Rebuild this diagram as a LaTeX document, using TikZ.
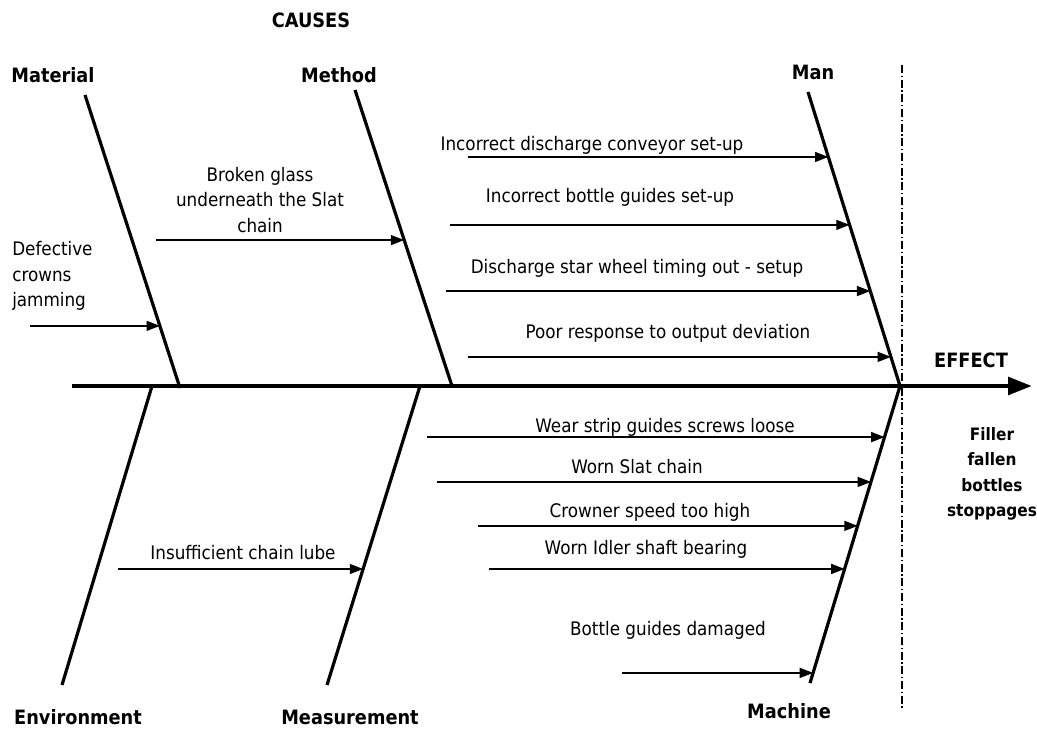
\documentclass[tikz,border=0pt]{standalone}
\usepackage{fontspec}
\setmainfont{DejaVu Sans Condensed}
\usetikzlibrary{arrows.meta,calc}

\begin{document}
\begin{tikzpicture}[x=0.75pt,y=-0.75pt,
    bone/.style={line width=2.4pt},
    cause/.style={line width=1.1pt,-{Triangle[length=10pt,width=7.5pt]}},
    txt/.style={font=\fontsize{14}{19}\selectfont,inner sep=0pt},
    head/.style={font=\bfseries\fontsize{14.8}{19}\selectfont,inner sep=0pt}]
  \useasboundingbox (0,0) rectangle (1037,730);
  % Spine and effect
  \coordinate (tail) at (72,386);
  \coordinate (mouth) at (900,386);
  \coordinate (tip) at (1032,386);
  \draw[line width=3.6pt,-{Triangle[length=18pt,width=13pt]}] (tail) -- (tip);
  \coordinate (divT) at (902,65);
  \coordinate (divB) at (902,710);
  \draw[line width=0.9pt,dash pattern=on 6pt off 2pt on 1pt off 2pt] (divT) -- (divB);
  \node[head] (effect) at (971,360) {EFFECT};
  \node[head,font=\bfseries\fontsize{12.8}{19}\selectfont,align=center] (problem) at (992,474) {Filler\\fallen\\bottles\\stoppages};
  \node[head] (causes) at (311,20) {CAUSES};
  % Bones
  \coordinate (matT) at (85,95);   \coordinate (matB) at (180,388);
  \coordinate (metT) at (355,90);  \coordinate (metB) at (452,386);
  \coordinate (manT) at (808,92);
  \coordinate (envB) at (62,685);  \coordinate (envT) at (152,386);
  \coordinate (meaB) at (327,685); \coordinate (meaT) at (420,386);
  \coordinate (macB) at (810,683);
  \draw[bone] (matT) -- (matB);
  \draw[bone] (metT) -- (metB);
  \draw[bone] (manT) -- (mouth);
  \draw[bone] (envB) -- (envT);
  \draw[bone] (meaB) -- (meaT);
  \draw[bone] (macB) -- (mouth);
  \node[head] (material) at (53,75) {Material};
  \node[head] (method) at (339,75) {Method};
  \node[head] (man) at (813,72) {Man};
  \node[head] (environment) at (78,717) {Environment};
  \node[head] (measurement) at (350,717) {Measurement};
  \node[head] (machine) at (789,711) {Machine};
  % Material
  \coordinate (a1) at ($(matT)!0.788!(matB)$);
  \draw[cause] (a1 -| 30,0) -- (a1);
  \node[txt,anchor=west,align=left] (t1) at (12,276) {Defective\\crowns\\jamming};
  % Method
  \coordinate (b1) at ($(metT)!0.507!(metB)$);
  \draw[cause] (b1 -| 156,0) -- (b1);
  \node[txt,align=center] (t2) at (260,200) {Broken glass\\underneath the Slat\\chain};
  % Man
  \coordinate (c1) at ($(manT)!0.221!(mouth)$);
  \coordinate (c2) at ($(manT)!0.452!(mouth)$);
  \coordinate (c3) at ($(manT)!0.677!(mouth)$);
  \coordinate (c4) at ($(manT)!0.901!(mouth)$);
  \draw[cause] (c1 -| 468,0) -- (c1);
  \draw[cause] (c2 -| 450,0) -- (c2);
  \draw[cause] (c3 -| 446,0) -- (c3);
  \draw[cause] (c4 -| 468,0) -- (c4);
  \node[txt] (t3) at (592,145) {Incorrect discharge conveyor set-up};
  \node[txt] (t4) at (610,197) {Incorrect bottle guides set-up};
  \node[txt] (t5) at (637,268) {Discharge star wheel timing out - setup};
  \node[txt] (t6) at (668,333) {Poor response to output deviation};
  % Environment and measurement
  \coordinate (d1) at ($(meaT)!0.612!(meaB)$);
  \draw[cause] (d1 -| 118,0) -- (d1);
  \node[txt] (t7) at (243,553) {Insufficient chain lube};
  % Machine
  \coordinate (e1) at ($(mouth)!0.172!(macB)$);
  \coordinate (e2) at ($(mouth)!0.323!(macB)$);
  \coordinate (e3) at ($(mouth)!0.471!(macB)$);
  \coordinate (e4) at ($(mouth)!0.616!(macB)$);
  \coordinate (e5) at ($(mouth)!0.966!(macB)$);
  \draw[cause] (e1 -| 427,0) -- (e1);
  \draw[cause] (e2 -| 437,0) -- (e2);
  \draw[cause] (e3 -| 478,0) -- (e3);
  \draw[cause] (e4 -| 489,0) -- (e4);
  \draw[cause] (e5 -| 622,0) -- (e5);
  \node[txt] (t8) at (665,427) {Wear strip guides screws loose};
  \node[txt] (t9) at (637,467) {Worn Slat chain};
  \node[txt] (t10) at (650,512) {Crowner speed too high};
  \node[txt] (t11) at (646,549) {Worn Idler shaft bearing};
  \node[txt] (t12) at (668,630) {Bottle guides damaged};
\end{tikzpicture}
\end{document}
